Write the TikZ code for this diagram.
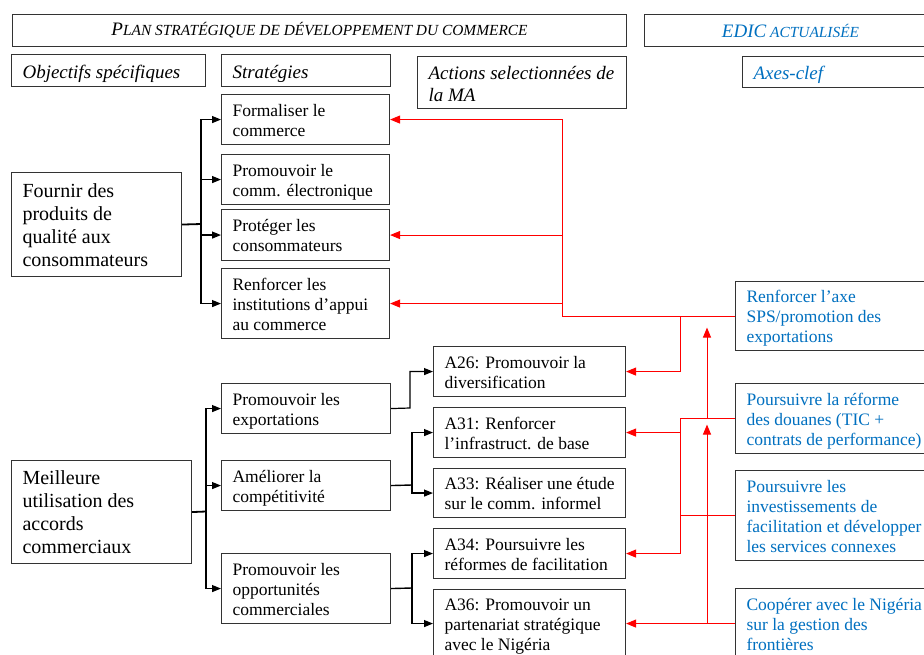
\documentclass[tikz,border=0pt]{standalone}
\usepackage{fontspec}
\setmainfont{Liberation Serif}
\usetikzlibrary{arrows.meta,calc}
\definecolor{edicblue}{RGB}{0,112,192}
\newcommand\bt[2]{\makebox[#1][l]{\raisebox{-2.5pt}[\height][\depth]{\begin{tabular}{@{}l@{}}#2\end{tabular}}}}
\newcommand\bth[2]{\makebox[#1][l]{\raisebox{-3.5pt}[\height][\depth]{\begin{tabular}{@{}l@{}}#2\end{tabular}}}}
\newcommand\hsc[2]{{\fontsize{19}{20}\selectfont #1}{\fontsize{15.4}{20}\selectfont #2}}
\begin{document}
\begin{tikzpicture}[x=1pt,y=-1pt,
  box/.style={draw=black!80, line width=1.1pt, rectangle, anchor=north west,
    inner xsep=11pt, inner ysep=0pt, font=\fontsize{17.5}{20}\selectfont},
  bigbox/.style={box, font=\fontsize{20}{23}\selectfont},
  headbox/.style={box, font=\itshape\fontsize{19}{22}\selectfont},
  titlebox/.style={draw=black!80, line width=1.1pt, rectangle, anchor=north west,
    inner sep=0pt, font=\itshape},
  bluetext/.style={text=edicblue},
  blk/.style={draw=black, line width=1.2pt, -{Triangle[length=9pt,width=7pt]}},
  blkline/.style={draw=black, line width=1.8pt},
  rd/.style={draw=red, line width=1pt, -{Triangle[length=10pt,width=8pt]}},
  rdline/.style={draw=red, line width=1pt}]
\clip (0,0) rectangle (924,654);
\fill[white] (0,0) rectangle (924,654);

% titles
\node[titlebox, minimum width=614pt, minimum height=32pt] (h1) at (12,14)
  {\hsc{P}{LAN STRATÉGIQUE DE DÉVELOPPEMENT DU COMMERCE}};
\node[titlebox, minimum width=292pt, minimum height=32pt, bluetext] (h2) at (644,14)
  {\hsc{EDIC}{ ACTUALISÉE}};

% column heads
\node[headbox, minimum width=194pt, minimum height=32pt] (obj) at (11,54)
  {\bth{172pt}{Objectifs spécifiques}};
\node[headbox, minimum width=169pt, minimum height=32pt] (strat) at (221,54)
  {\bth{147pt}{Stratégies}};
\node[headbox, minimum width=209pt, minimum height=52pt] (act) at (417,56)
  {\bth{187pt}{Actions selectionnées de\\la MA}};
\node[headbox, minimum width=194pt, minimum height=31pt, bluetext] (axes) at (742,56)
  {\bth{172pt}{Axes-clef}};

% objectives
\node[bigbox, minimum width=170pt, minimum height=104pt] (fournir) at (11,172)
  {\bt{148pt}{Fournir des\\produits de\\qualité aux\\consommateurs}};
\node[bigbox, minimum width=180pt, minimum height=103pt] (meil) at (11,460)
  {\bt{158pt}{Meilleure\\utilisation des\\accords\\commerciaux}};

% strategies
\node[box, minimum width=168pt, minimum height=50pt] (s1) at (221,94)
  {\bt{146pt}{Formaliser le\\commerce}};
\node[box, minimum width=168pt, minimum height=50pt] (s2) at (221,154)
  {\bt{146pt}{Promouvoir le\\comm. électronique}};
\node[box, minimum width=168pt, minimum height=51pt] (s3) at (221,209)
  {\bt{146pt}{Protéger les\\consommateurs}};
\node[box, minimum width=168pt, minimum height=70pt] (s4) at (221,268)
  {\bt{146pt}{Renforcer les\\institutions d’appui\\au commerce}};
\node[box, minimum width=169pt, minimum height=50pt] (s5) at (221,383)
  {\bt{147pt}{Promouvoir les\\exportations}};
\node[box, minimum width=169pt, minimum height=50pt] (s6) at (221,460)
  {\bt{147pt}{Améliorer la\\compétitivité}};
\node[box, minimum width=169pt, minimum height=70pt] (s7) at (221,553)
  {\bt{147pt}{Promouvoir les\\opportunités\\commerciales}};

% actions
\node[box, minimum width=192pt, minimum height=50pt] (a26) at (433,346)
  {\bt{170pt}{A26: Promouvoir la\\diversification}};
\node[box, minimum width=192pt, minimum height=50pt] (a31) at (433,407)
  {\bt{170pt}{A31: Renforcer\\l’infrastruct. de base}};
\node[box, minimum width=192pt, minimum height=49pt] (a33) at (433,468)
  {\bt{170pt}{A33: Réaliser une étude\\sur le comm. informel}};
\node[box, minimum width=192pt, minimum height=50pt] (a34) at (433,528)
  {\bt{170pt}{A34: Poursuivre les\\réformes de facilitation}};
\node[box, minimum width=192pt, minimum height=68pt] (a36) at (433,589)
  {\bt{170pt}{A36: Promouvoir un\\partenariat stratégique\\avec le Nigéria}};

% key axes
\node[box, minimum width=201pt, minimum height=69pt, bluetext] (sps) at (735,281)
  {\bt{179pt}{Renforcer l’axe\\SPS/promotion des\\exportations}};
\node[box, minimum width=201pt, minimum height=70pt, bluetext] (dou) at (735,383)
  {\bt{179pt}{Poursuivre la réforme\\des douanes (TIC +\\contrats de performance)}};
\node[box, minimum width=201pt, minimum height=90pt, bluetext] (inv) at (735,470)
  {\bt{179pt}{Poursuivre les\\investissements de\\facilitation et développer\\les services connexes}};
\node[box, minimum width=201pt, minimum height=70pt, bluetext] (coop) at (735,588)
  {\bt{179pt}{Coopérer avec le Nigéria\\sur la gestion des\\frontières}};

% bus coordinates
\coordinate (j1) at (201,224);
\coordinate (j2) at (206,511.5);
\coordinate (j3) at (410,408);
\coordinate (j4) at (412,485);
\coordinate (j5) at (412,588);
\coordinate (busA) at (562,0);
\coordinate (busB) at (680,0);
\coordinate (busC) at (707,0);

% black connectors
\draw[blkline] (fournir.east) -- (j1);
\draw[blk] (j1) |- (s1.west);
\draw[blk] (j1) |- (s2.west);
\draw[blk] (j1) |- (s3.west);
\draw[blk] (j1) |- (s4.west);
\draw[blkline] (meil.east) -- (j2);
\draw[blk] (j2) |- (s5.west);
\draw[blk] (j2) |- (s6.west);
\draw[blk] (j2) |- (s7.west);
\draw[blk] (s5.east) -- (j3) |- (a26.west);
\draw[blkline, line width=1.4pt] (s6.east) -- (j4);
\draw[blk] (j4) |- (a31.west);
\draw[blk] (j4) |- (a33.west);
\draw[blkline, line width=1.4pt] (s7.east) -- (j5);
\draw[blk] (j5) |- (a34.west);
\draw[blk] (j5) |- (a36.west);

% red connectors
\draw[rd] (sps.west) -| (busA |- s1.east) -- (s1.east);
\draw[rd] (busA |- s3.east) -- (s3.east);
\draw[rd] (busA |- s4.east) -- (s4.east);
\draw[rd] (busB |- sps.west) |- (a26.east);
\draw[rd] (dou.west) -| (busB |- a34.east) -- (a34.east);
\draw[rd] (busB |- a31.east) -- (a31.east);
\draw[rdline] (inv.west) -- (busB |- inv.west);
\draw[rd] (coop.west) -- (a36.east);
\draw[rd] (busC |- coop.west) -- ($(busC |- dou.west)+(0,6)$);
\draw[rd] (busC |- dou.west) -- ($(busC |- sps.west)+(0,11.5)$);
\end{tikzpicture}
\end{document}
